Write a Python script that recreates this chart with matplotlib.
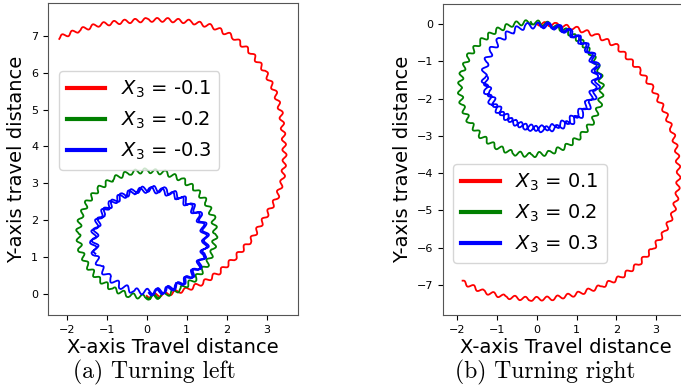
import numpy as np
import matplotlib
matplotlib.use('Agg')
import matplotlib.pyplot as plt

# travel paths (centre line of each trace, wiggle added by sketch style)
# (a) turning left
left_red_x = [0.0, 0.5, 1.0, 1.4, 1.8, 2.2, 2.6, 3.0, 3.25, 3.4, 3.45, 3.42, 3.35, 3.2, 2.95,
              2.6, 2.15, 1.65, 1.1, 0.5, 0.0, -0.6, -1.2, -1.7, -2.2]
left_red_y = [-0.05, 0.0, 0.12, 0.3, 0.58, 0.98, 1.45, 2.15, 2.6, 3.1, 3.7, 4.3, 4.95, 5.5, 6.05,
              6.55, 6.98, 7.25, 7.38, 7.43, 7.43, 7.38, 7.3, 7.15, 6.95]

left_green_x = [0.0, 0.445, 0.86, 1.216, 1.49, 1.661, 1.72, 1.661, 1.49, 1.216, 0.86, 0.445, 0.0,
                -0.445, -0.86, -1.216, -1.49, -1.661, -1.72, -1.661, -1.49, -1.216, -0.86, -0.445, 0.0, 0.3]
left_green_y = [-0.09, -0.03, 0.14, 0.414, 0.77, 1.185, 1.63, 2.075, 2.49, 2.846, 3.12, 3.29, 3.35,
                3.29, 3.12, 2.846, 2.49, 2.075, 1.63, 1.185, 0.77, 0.414, 0.14, -0.03, -0.09, -0.07]

left_blue_x = [0.05, 0.412, 0.75, 1.04, 1.262, 1.402, 1.45, 1.402, 1.262, 1.04, 0.75, 0.412, 0.05,
               -0.312, -0.65, -0.94, -1.162, -1.302, -1.35, -1.302, -1.162, -0.94, -0.65, -0.312,
               0.1, 0.462, 0.8, 1.09, 1.312, 1.452, 1.5, 1.452, 1.312, 1.09, 0.8, 0.462, 0.1,
               -0.262, -0.6, -0.89, -1.112, -1.252, -1.3, -1.252]
left_blue_y = [0.03, 0.078, 0.218, 0.44, 0.73, 1.068, 1.43, 1.792, 2.13, 2.42, 2.642, 2.782, 2.83,
               2.782, 2.642, 2.42, 2.13, 1.792, 1.43, 1.068, 0.73, 0.44, 0.218, 0.078,
               0.06, 0.108, 0.248, 0.47, 0.76, 1.098, 1.46, 1.822, 2.16, 2.45, 2.672, 2.812, 2.86,
               2.812, 2.672, 2.45, 2.16, 1.822, 1.46, 1.098]

# (b) turning right
right_red_x = [0.0, 0.5, 1.0, 1.5, 2.0, 2.6, 2.9, 3.2, 3.4, 3.52, 3.57, 3.53, 3.42, 3.2, 2.9,
               2.55, 2.1, 1.6, 1.0, 0.4, -0.2, -0.8, -1.35, -1.88]
right_red_y = [0.02, -0.02, -0.12, -0.3, -0.58, -1.25, -1.7, -2.3, -2.85, -3.4, -4.0, -4.6, -5.1,
               -5.6, -6.05, -6.45, -6.8, -7.05, -7.25, -7.36, -7.38, -7.32, -7.18, -6.92]

right_green_x = [-0.15, 0.313, 0.745, 1.116, 1.4, 1.579, 1.64, 1.579, 1.4, 1.116, 0.745, 0.313, -0.15,
                 -0.613, -1.045, -1.416, -1.7, -1.879, -1.94, -1.879, -1.7, -1.416, -1.045, -0.613, -0.15]
right_green_y = [0.06, -0.001, -0.18, -0.464, -0.835, -1.267, -1.73, -2.193, -2.625, -2.996, -3.28,
                 -3.459, -3.52, -3.459, -3.28, -2.996, -2.625, -2.193, -1.73, -1.267, -0.835, -0.464,
                 -0.18, -0.001, 0.06]

right_blue_x = [0.07, 0.432, 0.77, 1.06, 1.282, 1.422, 1.47, 1.422, 1.282, 1.06, 0.77, 0.432, 0.07,
                -0.292, -0.63, -0.92, -1.142, -1.282, -1.33, -1.282, -1.142, -0.92, -0.63, -0.292,
                0.15, 0.512, 0.85, 1.14, 1.362, 1.502, 1.55, 1.502, 1.362, 1.14, 0.85, 0.512, 0.15,
                -0.212, -0.55, -0.84, -1.062, -1.202, -1.3]
right_blue_y = [0.0, -0.048, -0.188, -0.41, -0.7, -1.038, -1.4, -1.762, -2.1, -2.39, -2.612, -2.752,
                -2.8, -2.752, -2.612, -2.39, -2.1, -1.762, -1.4, -1.038, -0.7, -0.41, -0.188, -0.048,
                -0.03, -0.078, -0.218, -0.44, -0.73, -1.068, -1.43, -1.792, -2.13, -2.42, -2.642,
                -2.782, -2.83, -2.782, -2.642, -2.42, -2.13, -1.792, -1.45]

left_labels = ['$X_3$ = -0.1', '$X_3$ = -0.2', '$X_3$ = -0.3']
right_labels = ['$X_3$ = 0.1', '$X_3$ = 0.2', '$X_3$ = 0.3']
colors = ['red', 'green', 'blue']
# wiggle (amplitude px, period px) per trace
wiggle = [(2.0, 10.5), (2.4, 9.5), (3.0, 10.5)]

fig = plt.figure(figsize=(6.81, 3.88), dpi=100)
ax1 = fig.add_axes([0.0705, 0.188, 0.367, 0.804])
ax2 = fig.add_axes([0.651, 0.188, 0.361, 0.802])

def draw(ax, paths, labels, legend_anchor):
    for (px, py), lab, c, (amp, per) in zip(paths, labels, colors, wiggle):
        line, = ax.plot(px, py, color=c, lw=1.3, label=lab)
        line.set_sketch_params(amp, per, 1)
    leg = ax.legend(loc='upper left', bbox_to_anchor=legend_anchor, borderaxespad=0, fontsize=14)
    for h in leg.get_lines():
        h.set_sketch_params(None)
        h.set_linewidth(3)
    ax.set_xlabel('X-axis Travel distance', fontsize=14, labelpad=2)
    ax.set_ylabel('Y-axis travel distance', fontsize=14)
    ax.tick_params(labelsize=8)
    for s in ax.spines.values():
        s.set_color('#555555')

draw(ax1, [(left_red_x, left_red_y), (left_green_x, left_green_y), (left_blue_x, left_blue_y)],
     left_labels, (0.043, 0.783))
ax1.set_xlim(-2.47, 3.78)
ax1.set_ylim(-0.57, 7.886)

draw(ax2, [(right_red_x, right_red_y), (right_green_x, right_green_y), (right_blue_x, right_blue_y)],
     right_labels, (0.039, 0.486))
ax2.set_xlim(-2.35, 3.83)
ax2.set_ylim(-7.81, 0.545)

fig.text(154.7 / 681, 1 - 372 / 388, '(a) Turning left', family='cmr10', fontsize=17, ha='center', va='center')
fig.text(545 / 681, 1 - 372 / 388, '(b) Turning right', family='cmr10', fontsize=17, ha='center', va='center')

fig.savefig('out.png', dpi=100)
